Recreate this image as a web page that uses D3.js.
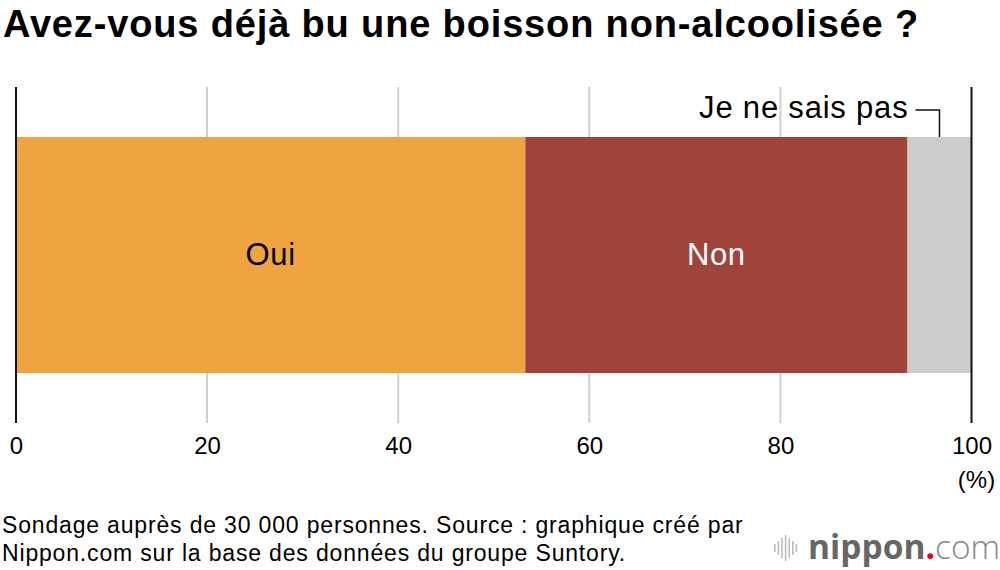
<!DOCTYPE html>
<html><head><meta charset="utf-8">
<script src="https://cdn.jsdelivr.net/npm/d3@7"></script>
<style>body{margin:0;background:#fff}svg{display:block;font-family:"Liberation Sans",Arial,sans-serif}</style>
</head><body><svg id="c" width="1000" height="570"></svg>
<script>
const categories = ["Oui", "Non", "Je ne sais pas"];
const values = [53.3, 40.0, 6.7];
const colors = ["#F0A441", "#A0443A", "#CCCCCC"];
const labelColors = ["#000", "#fff", "#000"];
const tickValues = [0, 20, 40, 60, 80, 100];

const svg = d3.select("#c");
const x = d3.scaleLinear().domain([0, 100]).range([16, 971.5]);
const barTop = 137, barBottom = 373, gridTop = 87, gridBottom = 423;

svg.append("text").attr("x", 3).attr("y", 37).attr("font-size", 38).attr("font-weight", "bold")
  .attr("letter-spacing", 0.85).attr("fill", "#000").text("Avez-vous déjà bu une boisson non-alcoolisée ?");

// gridlines
svg.append("g").selectAll("line").data(tickValues.filter(d => d > 0 && d < 100)).join("line")
  .attr("x1", d => x(d)).attr("x2", d => x(d)).attr("y1", gridTop).attr("y2", gridBottom)
  .attr("stroke", "#cfcfcf").attr("stroke-width", 2);

// stacked bars
let cum = 0;
const segs = values.map((v, i) => { const s = {cat: categories[i], v, x0: cum, x1: cum + v, i}; cum += v; return s; });
svg.append("g").selectAll("rect").data(segs).join("rect")
  .attr("x", d => x(d.x0)).attr("width", d => x(d.x1) - x(d.x0))
  .attr("y", barTop).attr("height", barBottom - barTop).attr("fill", d => colors[d.i]);

// axis lines at 0 and 100
svg.append("g").selectAll("line").data([0, 100]).join("line")
  .attr("x1", d => x(d)).attr("x2", d => x(d)).attr("y1", gridTop).attr("y2", gridBottom)
  .attr("stroke", "#111").attr("stroke-width", 2);

// segment labels
svg.append("g").selectAll("text").data(segs.slice(0, 2)).join("text")
  .attr("x", d => (x(d.x0) + x(d.x1)) / 2).attr("y", 265).attr("text-anchor", "middle")
  .attr("font-size", 31).attr("letter-spacing", 0.6).attr("fill", d => labelColors[d.i]).text(d => d.cat);

// Je ne sais pas leader
const last = segs[2];
const lx = (x(last.x0) + x(last.x1)) / 2;
svg.append("path").attr("d", `M${x(last.x0) + 8},${110}H${lx}V${barTop}`)
  .attr("fill", "none").attr("stroke", "#111").attr("stroke-width", 1.5);
svg.append("text").attr("x", x(last.x0) + 1).attr("y", 118).attr("text-anchor", "end")
  .attr("font-size", 31).attr("letter-spacing", 0.8).attr("fill", "#000").text(last.cat);

// tick labels
const axis = d3.axisBottom(x).tickValues(tickValues).tickSize(0).tickPadding(0);
const ag = svg.append("g").attr("transform", "translate(0,440)").call(axis);
ag.select(".domain").remove();
ag.selectAll("text").attr("font-size", 24).attr("fill", "#000").attr("font-family", "Liberation Sans, Arial, sans-serif").attr("dy", "0.6em");
svg.append("text").attr("x", x(100) + 5).attr("y", 488).attr("text-anchor", "middle")
  .attr("font-size", 24).attr("fill", "#000").text("(%)");

// footer
svg.append("text").attr("x", 2).attr("y", 533).attr("font-size", 23).attr("letter-spacing", 0.83).attr("fill", "#000")
  .text("Sondage auprès de 30 000 personnes. Source : graphique créé par");
svg.append("text").attr("x", 2).attr("y", 561).attr("font-size", 23).attr("letter-spacing", 0.83).attr("fill", "#000")
  .text("Nippon.com sur la base des données du groupe Suntory.");

// logo
const lg = svg.append("g").attr("transform", "translate(774,548)");
const barsH = [8, 14, 20, 26, 20, 14, 8];
lg.selectAll("rect").data(barsH).join("rect")
  .attr("x", (d, i) => i * 3.6).attr("y", d => -d / 2).attr("width", 1.6).attr("height", d => d)
  .attr("fill", "#bbb");
const lt = lg.append("text").attr("x", 34).attr("y", 11).attr("font-size", 33.5).attr("font-family", "Open Sans, sans-serif");
lt.append("tspan").attr("font-weight", "bold").attr("fill", "#666").text("nippon");
lt.append("tspan").attr("font-weight", "bold").attr("fill", "#e60012").text(".");
lt.append("tspan").attr("font-weight", "300").attr("fill", "#888").text("com");
</script></body></html>
